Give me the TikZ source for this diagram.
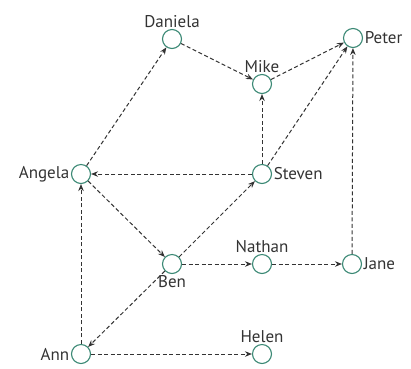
\documentclass[tikz,border=0pt]{standalone}
\usepackage{fontspec}
\setmainfont{PT Sans}
\usetikzlibrary{arrows.meta,positioning,shapes}
\definecolor{ringgreen}{RGB}{58,136,116}

\begin{document}
\begin{tikzpicture}[x=1pt,y=-1pt,
  person/.style={draw=ringgreen,circle,line width=1.1pt,minimum size=19pt,inner sep=0pt,fill=white},
  lbl/.style={font=\fontsize{17}{19}\selectfont,text=black!80,inner sep=1.5pt},
  link/.style={-{Stealth[length=7pt,width=5.5pt]},draw=black!80,line width=1pt,dash pattern=on 4pt off 2.5pt}]
\useasboundingbox (0,0) rectangle (411,368);
\node[person,label={[lbl]above:Daniela}] (daniela) at (172,39) {};
\node[person,label={[lbl]above:Mike}] (mike) at (262,84) {};
\node[person,label={[lbl]right:Peter}] (peter) at (353,38) {};
\node[person,label={[lbl]left:Angela}] (angela) at (81,174) {};
\node[person,label={[lbl]right:Steven}] (steven) at (262,174) {};
\node[person,label={[lbl]below:Ben}] (ben) at (172,264) {};
\node[person,label={[lbl]above:Nathan}] (nathan) at (262,264) {};
\node[person,label={[lbl]right:Jane}] (jane) at (352,264) {};
\node[person,label={[lbl]left:Ann}] (ann) at (81,354) {};
\node[person,label={[lbl]above:Helen}] (helen) at (262,354) {};
\draw[link] (daniela) -- (mike);
\draw[link] (mike) -- (peter);
\draw[link] (steven) -- (peter);
\draw[link] (steven) -- (mike);
\draw[link] (steven) -- (angela);
\draw[link] (angela) -- (daniela);
\draw[link] (angela) -- (ben);
\draw[link] (ben) -- (steven);
\draw[link] (ben) -- (nathan);
\draw[link] (nathan) -- (jane);
\draw[link] (jane) -- (peter);
\draw[link] (ben) -- (ann);
\draw[link] (ann) -- (angela);
\draw[link] (ann) -- (helen);
\end{tikzpicture}
\end{document}
